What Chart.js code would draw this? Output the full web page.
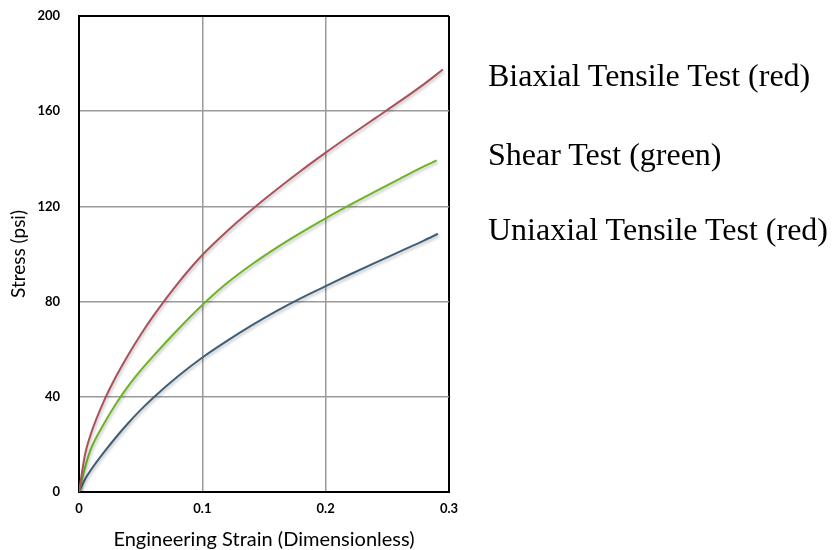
<!DOCTYPE html>
<html>
<head>
<meta charset="utf-8">
<script src="https://cdn.jsdelivr.net/npm/chart.js@4"></script>
<style>
  body { margin: 0; background: #fff; }
  #wrap { position: relative; width: 836px; height: 550px; }
  .leg { position: absolute; left: 488px; font-family: "Liberation Serif", "Times New Roman", serif; font-size: 32px; line-height: 1; color: #000; white-space: nowrap; }
</style>
</head>
<body>
<div id="wrap">
  <canvas id="stressChart" width="836" height="550"></canvas>
  <div id="legend"></div>
</div>
<script>
// strain values (dimensionless), shared by the three curves
var strain = [0, 0.005, 0.01, 0.02, 0.03, 0.04, 0.05, 0.06, 0.08, 0.1,
              0.12, 0.14, 0.16, 0.18, 0.2, 0.22, 0.24, 0.26, 0.28];
// stress in psi
var biaxial  = [0, 16, 25, 38, 48.5, 57.7, 66.1, 73.8, 87.6, 99.6,
                109.6, 118.6, 127, 135, 142.6, 149.9, 157, 164.1, 171.5];
var shear    = [0, 10.5, 18.5, 28.5, 37.1, 44.6, 51.1, 57, 68.2, 78.6,
                87.8, 95.6, 102.6, 109, 115, 120.7, 126.2, 131.6, 136.9];
var uniaxial = [0, 5.5, 9.5, 16.5, 23, 29, 34.5, 39.5, 48.5, 56.5,
                63.5, 70, 76, 81.5, 86.5, 91.5, 96.3, 101, 105.7];
// last recorded point of each test
var lastStrain = [0.295, 0.29, 0.291];
var lastStress = [177.5, 139.3, 108.5];

var seriesNames = ['Biaxial Tensile Test (red)', 'Shear Test (green)', 'Uniaxial Tensile Test (red)'];
var seriesColors = ['#a8525c', '#6cb423', '#3f5f78'];
var xTicks = [0, 0.1, 0.2, 0.3];
var yTicks = [0, 40, 80, 120, 160, 200];

function toPoints(ys, i) {
    var pts = strain.map(function(x, j) { return { x: x, y: ys[j] }; });
    pts.push({ x: lastStrain[i], y: lastStress[i] });
    return pts;
}

// soft drop shadow under the curves
var shadowPlugin = {
    id: 'shadow',
    beforeDatasetsDraw: function(chart) {
        var c = chart.ctx;
        c.save();
        c.shadowColor = 'rgba(0,0,0,0.25)';
        c.shadowBlur = 3;
        c.shadowOffsetX = 1;
        c.shadowOffsetY = 2;
    },
    afterDatasetsDraw: function(chart) {
        chart.ctx.restore();
    }
};

var tickFont = { family: 'Lato, "DejaVu Sans", sans-serif', size: 13, weight: 'bold' };
var titleFont = { family: 'Lato, "DejaVu Sans", sans-serif', size: 20, lineHeight: 1 };

function edgeColor(edges) {
    return function(c) { return (c.tick && edges.indexOf(c.tick.value) >= 0) ? '#000' : '#9a9a9a'; };
}
function edgeWidth(edges) {
    return function(c) { return (c.tick && edges.indexOf(c.tick.value) >= 0) ? 2 : 1.5; };
}

document.addEventListener("DOMContentLoaded", function() {
    var ctx = document.getElementById('stressChart').getContext('2d');

    var datasets = [biaxial, shear, uniaxial].map(function(ys, i) {
        return {
            label: seriesNames[i],
            data: toPoints(ys, i),
            borderColor: seriesColors[i],
            showLine: true,
            pointRadius: 0,
            borderWidth: 2,
            cubicInterpolationMode: 'monotone',
            fill: false
        };
    });

    var stressChart = new Chart(ctx, {
        type: 'scatter',
        data: { datasets: datasets },
        options: {
            responsive: false,
            animation: false,
            layout: { padding: { left: 0, right: 387, top: 16, bottom: 0 } },
            plugins: { legend: { display: false }, tooltip: { enabled: false } },
            scales: {
                x: {
                    type: 'linear', min: 0, max: 0.3,
                    afterBuildTicks: function(s) { s.ticks = xTicks.map(function(v) { return { value: v }; }); },
                    afterFit: function(s) { s.height = 58; },
                    grid: { drawTicks: false, color: edgeColor([0, 0.3]), lineWidth: edgeWidth([0, 0.3]) },
                    border: { color: '#000', width: 2 },
                    ticks: { font: tickFont, color: '#000', padding: 9, callback: function(v) { return String(v); } },
                    title: { display: true, text: 'Engineering Strain (Dimensionless)', font: titleFont, color: '#000', padding: { top: 0, bottom: 0 } }
                },
                y: {
                    min: 0, max: 200,
                    afterBuildTicks: function(s) { s.ticks = yTicks.map(function(v) { return { value: v }; }); },
                    afterFit: function(s) { s.width = 79; s.paddingTop = 0; s.paddingBottom = 0; },
                    grid: { drawTicks: false, color: edgeColor([0, 200]), lineWidth: edgeWidth([0, 200]) },
                    border: { color: '#000', width: 2 },
                    ticks: { font: tickFont, color: '#000', padding: 19 },
                    title: { display: true, text: 'Stress (psi)', font: { family: titleFont.family, size: 19, lineHeight: 1.2 }, color: '#000', padding: { top: 7, bottom: 0 } }
                }
            }
        },
        plugins: [shadowPlugin]
    });

    // text legend on the right, as in the original figure
    var tops = [59, 138, 213];
    var legend = document.getElementById('legend');
    seriesNames.forEach(function(name, i) {
        var d = document.createElement('div');
        d.className = 'leg';
        d.style.top = tops[i] + 'px';
        d.textContent = name;
        legend.appendChild(d);
    });
});
</script>
</body>
</html>
